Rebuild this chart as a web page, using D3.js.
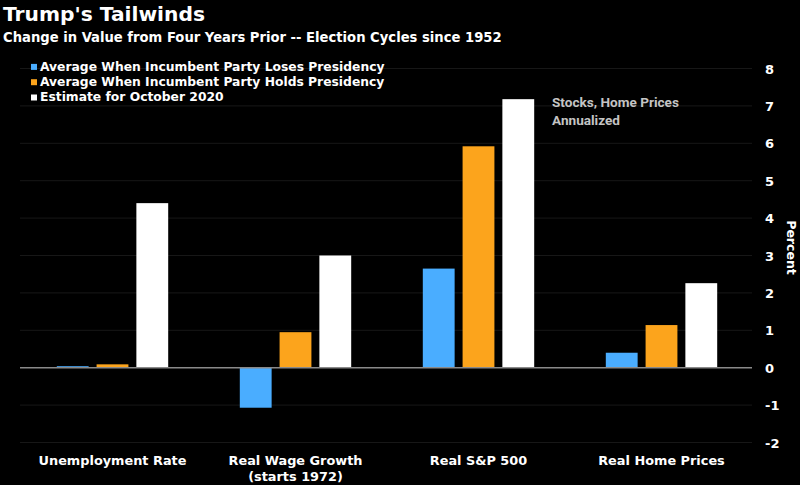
<!DOCTYPE html>
<html>
<head>
<meta charset="utf-8">
<script src="https://cdn.jsdelivr.net/npm/d3@7"></script>
<style>
  html, body { margin: 0; padding: 0; background: #000; }
  svg { display: block; }
  text { font-family: "DejaVu Sans", Verdana, sans-serif; font-weight: bold; }
</style>
</head>
<body>
<svg id="chart" width="800" height="485"></svg>
<script>
// ---- data ----
const categories = ["Unemployment Rate", "Real Wage Growth\n(starts 1972)", "Real S&P 500", "Real Home Prices"];
const seriesNames = ["Average When Incumbent Party Loses Presidency", "Average When Incumbent Party Holds Presidency", "Estimate for October 2020"];
const losesValues = [0.04, -1.07, 2.65, 0.40];
const holdsValues = [0.09, 0.95, 5.92, 1.14];
const estimateValues = [4.40, 3.00, 7.18, 2.26];
const yTicks = [-2, -1, 0, 1, 2, 3, 4, 5, 6, 7, 8];
const titleText = "Trump's Tailwinds";
const subtitleText = "Change in Value from Four Years Prior -- Election Cycles since 1952";
const noteLines = ["Stocks, Home Prices", "Annualized"];
const yAxisTitle = "Percent";

const colors = ["#4aadff", "#fca41c", "#ffffff"];
const seriesValues = [losesValues, holdsValues, estimateValues];

const svg = d3.select("#chart");

// fit font size of a text selection so that its width matches target
function fitWidth(sel, target, base) {
  sel.attr("font-size", base);
  const len = sel.node().getComputedTextLength();
  const fs = base * target / len;
  sel.attr("font-size", fs);
  return fs;
}

// ---- scales ----
const plotLeft = 21, plotRight = 753;
const x0 = d3.scaleBand().domain(categories).range([plotLeft, plotRight]).padding(0);
const x1 = d3.scaleBand().domain(d3.range(seriesNames.length)).range([0, x0.bandwidth()])
  .paddingInner(0.2).paddingOuter(0.9);
const y = d3.scaleLinear().domain([-2, 8]).range([442.5, 68.5]);

// ---- gridlines ----
svg.append("g").selectAll("line").data(yTicks.filter(d => d !== 0)).join("line")
  .attr("x1", 20).attr("x2", 752)
  .attr("y1", d => y(d)).attr("y2", d => y(d))
  .attr("stroke", "#171717").attr("stroke-width", 1);

// ---- bars ----
const rows = categories.map((c, i) => ({ cat: c, vals: seriesValues.map(s => s[i]) }));
const groups = svg.append("g").selectAll("g").data(rows).join("g")
  .attr("transform", d => `translate(${x0(d.cat)},0)`);
groups.selectAll("rect").data(d => d.vals.map((v, k) => ({ v, k }))).join("rect")
  .attr("x", d => x1(d.k))
  .attr("width", x1.bandwidth())
  .attr("y", d => y(Math.max(0, d.v)))
  .attr("height", d => Math.abs(y(d.v) - y(0)))
  .attr("fill", d => colors[d.k]);

// ---- zero line ----
svg.append("line").attr("x1", 20).attr("x2", 752).attr("y1", y(0)).attr("y2", y(0))
  .attr("stroke", "#8a8a8a").attr("stroke-width", 1.6);

// ---- y axis (right) ----
const yAxis = d3.axisRight(y).tickValues(yTicks).tickSize(0).tickPadding(0).tickFormat(d => String(d));
const ga = svg.append("g").attr("transform", "translate(765,0)").call(yAxis);
ga.select(".domain").remove();
ga.selectAll("text").attr("fill", "#fff").attr("font-size", 13)
  .attr("font-family", "DejaVu Sans").attr("font-weight", "bold").attr("text-anchor", "start")
  .attr("dy", "0.36em");

svg.append("text").attr("transform", "translate(786.5,247.5) rotate(90)")
  .attr("text-anchor", "middle").attr("fill", "#fff").attr("font-size", 12.5)
  .text(yAxisTitle);

// ---- category labels ----
let catFs = null;
categories.forEach((c, i) => {
  const lines = c.split("\n");
  const t = svg.append("text").attr("text-anchor", "middle").attr("fill", "#fff")
    .attr("x", x0(c) + x0.bandwidth() / 2).attr("y", 465);
  lines.forEach((ln, j) => {
    t.append("tspan").attr("x", x0(c) + x0.bandwidth() / 2).attr("dy", j === 0 ? 0 : 15.5).text(ln);
  });
  if (i === 0) catFs = fitWidth(t, 148, 13);
  else t.attr("font-size", catFs);
});

// ---- title & subtitle ----
const title = svg.append("text").attr("x", 3).attr("y", 21).attr("fill", "#fff").text(titleText);
fitWidth(title, 202, 20);
const sub = svg.append("text").attr("x", 3).attr("y", 42).attr("fill", "#fff").text(subtitleText);
fitWidth(sub, 499, 14);

// ---- legend ----
const legend = svg.append("g");
let legFs = null;
seriesNames.forEach((n, i) => {
  const yy = 70.7 + i * 15.3;
  legend.append("rect").attr("x", 31).attr("y", yy - 6.8).attr("width", 6).attr("height", 6)
    .attr("fill", colors[i]);
  const t = legend.append("text").attr("x", 40).attr("y", yy).attr("fill", "#fff").text(n);
  if (i === 0) legFs = fitWidth(t, 345, 13);
  else t.attr("font-size", legFs);
});

// ---- note ----
const note = svg.append("g");
let noteFs = null;
noteLines.forEach((ln, i) => {
  const t = note.append("text").attr("x", 552).attr("y", 106.5 + i * 18.5)
    .attr("fill", "#c4c4c4").style("font-family", "Roboto")
    .style("font-weight", "700").text(ln);
  if (i === 0) noteFs = fitWidth(t, 127, 14);
  else t.attr("font-size", noteFs);
});
</script>
</body>
</html>
